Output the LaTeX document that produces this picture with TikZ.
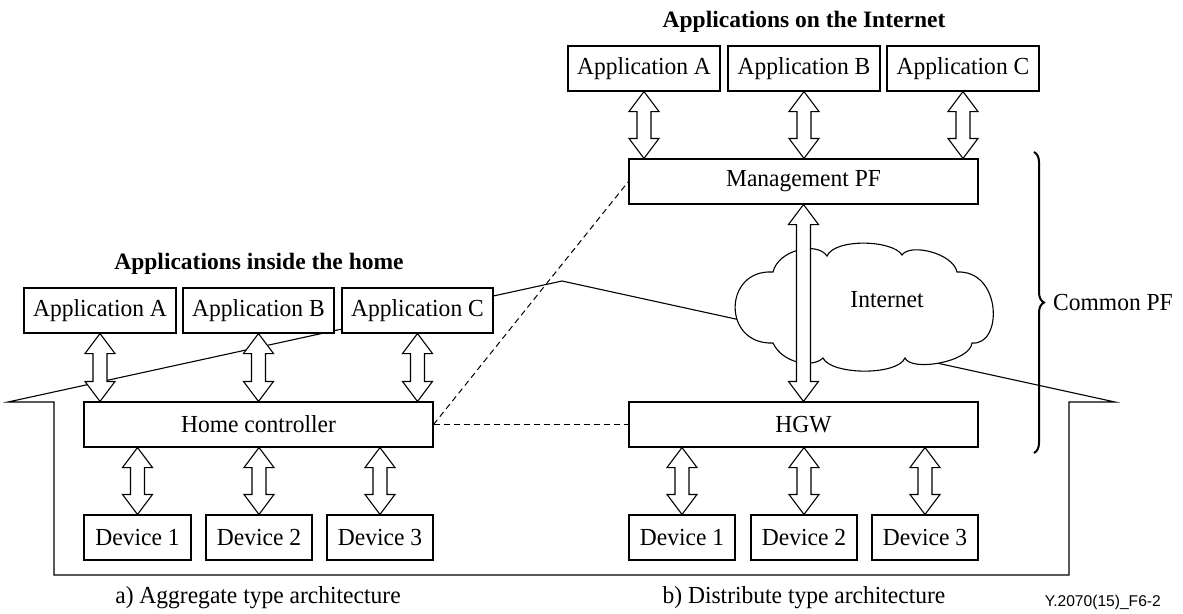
\documentclass[tikz,border=0pt]{standalone}
\usepackage{fontspec}
\setmainfont{Liberation Serif}[FakeStretch=0.96]
\newfontfamily\headfont{Liberation Serif}
\newfontfamily\figidfont{Liberation Sans}
\usetikzlibrary{calc,decorations.pathreplacing}

\begin{document}
\begin{tikzpicture}[x=1pt,y=-1pt,
  txt/.style={font=\fontsize{24.5}{27}\selectfont, inner sep=0pt},
  titletxt/.style={font=\headfont\bfseries\fontsize{23.5}{26}\selectfont, inner sep=0pt},
  box/.style={draw, fill=white, line width=1.1pt, inner sep=0pt,
              minimum height=45pt, font=\fontsize{24.5}{27}\selectfont},
  appbox/.style={box, minimum width=152pt},
  wide/.style={box, minimum width=349pt},
  devbox/.style={box, minimum width=106pt},
  outline/.style={line width=1.1pt, line join=miter},
  link/.style={line width=1pt, dash pattern=on 6pt off 4pt},
  dblarrow/.style={draw, fill=white, line width=1.1pt, line join=miter,
    to path={let \p1=(\tikztostart), \p2=(\tikztotarget) in
      (\x1,\y1) -- (\x1+15pt,\y1-20pt) -- (\x1+7pt,\y1-20pt)
      -- (\x1+7pt,\y2+20pt) -- (\x1+15pt,\y2+20pt) -- (\x1,\y2)
      -- (\x1-15pt,\y2+20pt) -- (\x1-7pt,\y2+20pt)
      -- (\x1-7pt,\y1-20pt) -- (\x1-15pt,\y1-20pt) -- cycle}}
]
\useasboundingbox (0,0) rectangle (1183,613);

% house outline (roof and walls)
\draw[outline] (8,402) -- (562,281) -- (1115,402) -- (1069,402)
  -- (1069,575) -- (54,575) -- (54,402) -- cycle;

% Internet cloud
\draw[outline, fill=white]
  (773,272) .. controls (778,250) and (817,241) .. (827,256)
  .. controls (835,238) and (893,240) .. (902,255)
  .. controls (910,243) and (953,253) .. (957,272)
  .. controls (1002,270) and (1003,346) .. (972,343)
  .. controls (970,362) and (911,372) .. (905,358)
  .. controls (897,376) and (831,375) .. (823,358)
  .. controls (813,368) and (783,364) .. (773,343)
  .. controls (722,345) and (723,269) .. (773,272) -- cycle;
\node[txt] (net) at (887,300) {Internet};

% titles
\node[titletxt] (ttop) at (804,22) {Applications on the Internet};
\node[titletxt] (thome) at (259,264) {Applications inside the home};

% distribute type architecture
\node[appbox] (ia) at (644,68.5) {Application A};
\node[appbox] (ib) at (804,68.5) {Application B};
\node[appbox] (ic) at (963,68.5) {Application C};
\node[wide] (mpf) at (803.5,181.5) {Management PF};
\node[wide] (hgw) at (803.5,424.5) {HGW};
\node[devbox] (rd1) at (682,537.5) {Device 1};
\node[devbox] (rd2) at (804,537.5) {Device 2};
\node[devbox] (rd3) at (925,537.5) {Device 3};

% aggregate type architecture
\node[appbox] (ha) at (100,310.5) {Application A};
\node[appbox, minimum width=151pt] (hb) at (258.5,310.5) {Application B};
\node[appbox, minimum width=151pt] (hcapp) at (417.5,310.5) {Application C};
\node[wide] (hc) at (258.5,424.5) {Home controller};
\node[devbox, minimum width=107pt] (ld1) at (137.5,537.5) {Device 1};
\node[devbox] (ld2) at (259,537.5) {Device 2};
\node[devbox] (ld3) at (380,537.5) {Device 3};

% dashed links between the two architectures
\draw[link] (hc.east) -- (mpf.west);
\draw[link] (hc.east) -- (hgw.west);

% block arrows
\path[dblarrow] (ia.south) to (mpf.north);
\path[dblarrow] (ib.south) to (mpf.north);
\path[dblarrow] (ic.south) to (mpf.north);
\path[dblarrow] (mpf.south) to (hgw.north);
\path[dblarrow] (hgw.south -| rd1.north) to (rd1.north);
\path[dblarrow] (hgw.south -| rd2.north) to (rd2.north);
\path[dblarrow] (hgw.south -| rd3.north) to (rd3.north);

\path[dblarrow] (ha.south) to (hc.north);
\path[dblarrow] (hb.south) to (hc.north);
\path[dblarrow] (hcapp.south) to (hc.north);
\path[dblarrow] (hc.south -| ld1.north) to (ld1.north);
\path[dblarrow] (hc.south -| ld2.north) to (ld2.north);
\path[dblarrow] (hc.south -| ld3.north) to (ld3.north);

% common platform brace
\draw[line width=2pt, decorate, decoration={brace, amplitude=10pt}]
  (1034,152) -- (1034,453);
\node[txt, anchor=west] (cpf) at (1053,303) {Common PF};

% captions
\node[txt] (capa) at (258,598) {a) Aggregate type architecture};
\node[txt] (capb) at (804,598) {b) Distribute type architecture};
\node[inner sep=0pt, anchor=east, font=\figidfont\fontsize{15.6}{18}\selectfont]
  (figid) at (1161,602) {Y.2070(15)\_F6-2};
\end{tikzpicture}
\end{document}
